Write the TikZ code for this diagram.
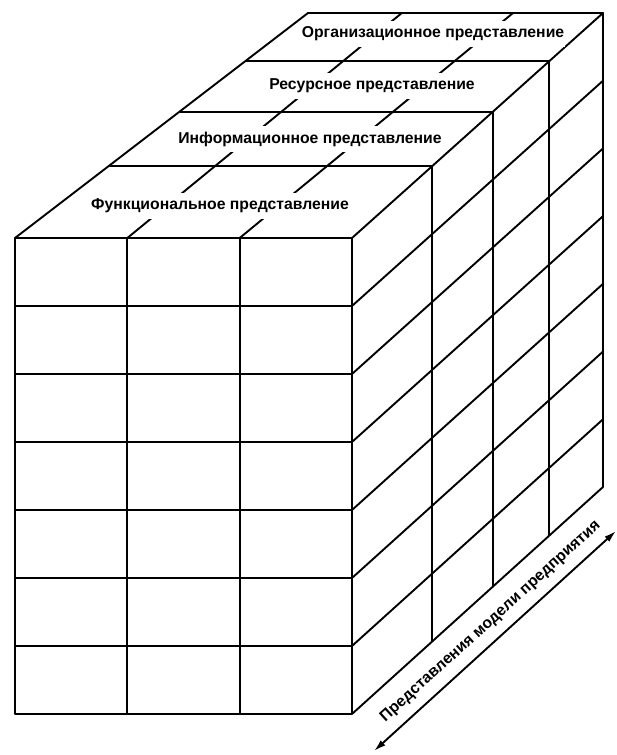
\documentclass[tikz,border=0pt]{standalone}
\usepackage{fontspec}
\setmainfont{Liberation Sans}
\usetikzlibrary{calc,arrows.meta}

\begin{document}
\begin{tikzpicture}[x=1bp,y=-1bp,line width=1.9bp,line join=round,
        lbl/.style={fill=white,inner xsep=1bp,inner ysep=6bp,font=\bfseries\fontsize{15.8}{18}\selectfont},
        >={Latex[length=12bp,width=7bp]}]
    \useasboundingbox (0,0) rectangle (617,755);
    \foreach \x/\y/\n in {15/238/ftl, 352/238/ftr, 15/714/fbl, 352/714/fbr, 308/13/btl, 603/13/btr, 603/487/bbr, 374/751/a1, 616/531/a2}
        \coordinate (\n) at (\x,\y);
    % front
    \draw (ftl) rectangle (fbr);
    \foreach \i in {1,...,6}
        \draw ($(ftl)!\i/7!(fbl)$) -- ($(ftr)!\i/7!(fbr)$);
    \foreach \i in {1,2}
        \draw ($(ftl)!\i/3!(ftr)$) -- ($(fbl)!\i/3!(fbr)$);
    % side
    \draw (ftr) -- (btr) -- (bbr) -- (fbr);
    \foreach \i in {1,...,6}
        \draw ($(ftr)!\i/7!(fbr)$) -- ($(btr)!\i/7!(bbr)$);
    \foreach \p in {.319,.562,.785}
        \draw ($(ftr)!\p!(btr)$) -- ($(fbr)!\p!(bbr)$);
    % top
    \foreach \p in {.319,.562,.785}
        \draw ($(ftl)!\p!(btl)$) -- ($(ftr)!\p!(btr)$);
    \foreach \i/\j in {1/.318, 2/.695}
        \draw ($(ftl)!\i/3!(ftr)$) -- ($(btl)!\j!(btr)$);
    \foreach \x/\y/\n/\t in {220/206/fun/Функциональное представление, 310/139/inf/Информационное представление, 372/86/res/Ресурсное представление, 433/34/org/Организационное представление}
        \node[lbl] (\n) at (\x,\y) {\t};
    \draw (ftl) -- (btl) -- (btr);
    \draw[<->] (a1) -- node[sloped,pos=.53,above=6bp,font=\bfseries\fontsize{15.8}{18}\selectfont] (axis) {Представления модели предприятия} (a2);
\end{tikzpicture}
\end{document}
